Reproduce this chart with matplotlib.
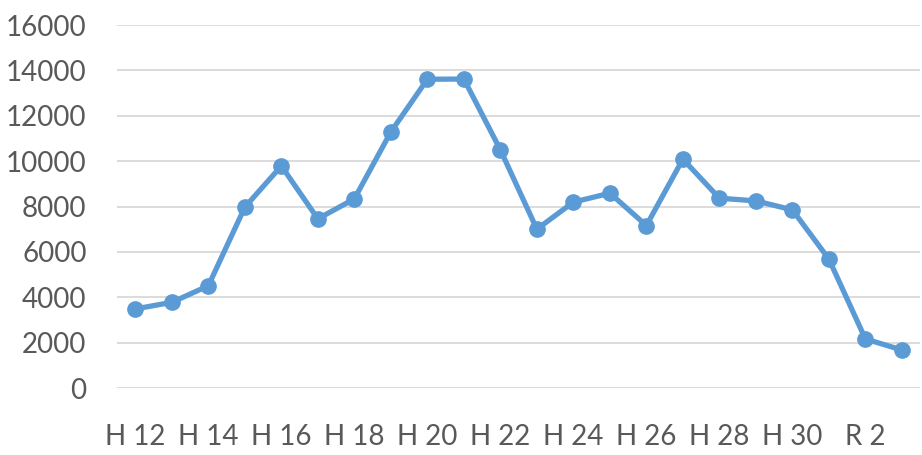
import matplotlib.pyplot as plt

categories = ['H 12', 'H 13', 'H 14', 'H 15', 'H 16', 'H 17', 'H 18', 'H 19',
              'H 20', 'H 21', 'H 22', 'H 23', 'H 24', 'H 25', 'H 26', 'H 27',
              'H 28', 'H 29', 'H 30', 'R 1', 'R 2', 'R 3']
values = [3490, 3780, 4510, 7975, 9790, 7460, 8340, 11290, 13610, 13620,
          10500, 7005, 8195, 8590, 7165, 10090, 8370, 8250, 7855, 5685,
          2165, 1680]
y_ticks = [0, 2000, 4000, 6000, 8000, 10000, 12000, 14000, 16000]

plt.rcParams['font.family'] = ['Lato', 'DejaVu Sans']

fig = plt.figure(figsize=(9.22, 4.55), dpi=100)
ax = fig.add_axes([0.127, 0.147, 0.871, 0.798])

x = list(range(len(categories)))
ax.plot(x, values, color='#5B9BD5', linewidth=3.8, marker='o',
        markersize=11, zorder=3)

ax.set_xlim(-0.5, len(categories) - 0.5)
ax.set_ylim(0, 16000)
ax.set_yticks(y_ticks)
ax.set_yticklabels([str(v) for v in y_ticks])
ax.set_xticks(x[::2])
ax.set_xticklabels(categories[::2])

ax.grid(axis='y', color='#D9D9D9', linewidth=1.3)
ax.set_axisbelow(True)
for s in ax.spines.values():
    s.set_visible(False)
ax.tick_params(axis='both', length=0, colors='#595959', labelsize=20)
ax.tick_params(axis='y', pad=22)
ax.tick_params(axis='x', pad=26)

fig.savefig('out.png', dpi=100)
